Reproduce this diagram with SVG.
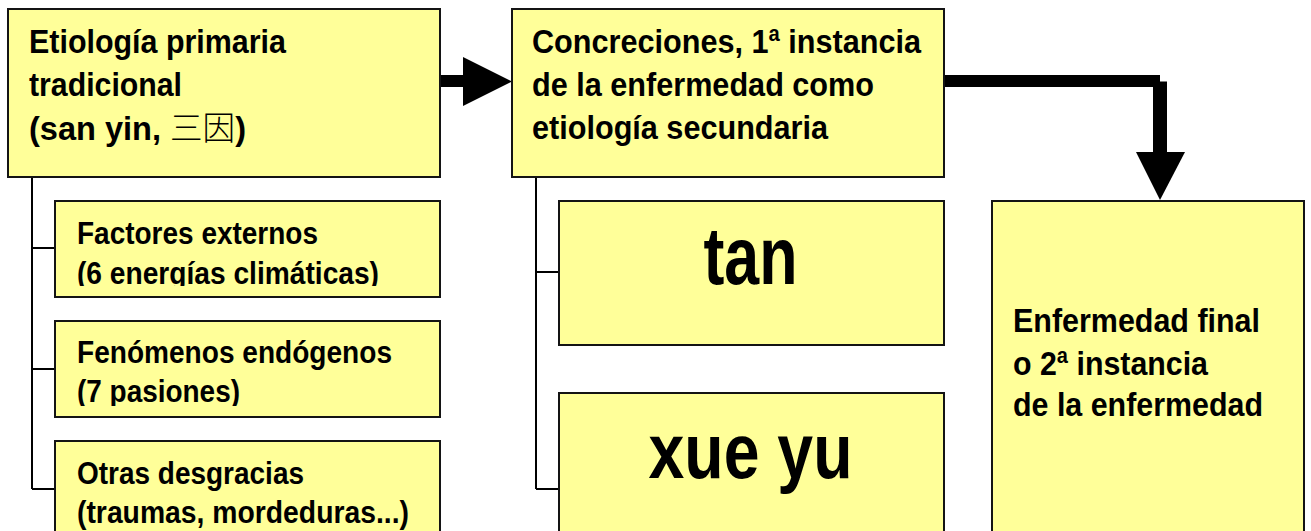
<svg xmlns="http://www.w3.org/2000/svg" width="1311" height="531" viewBox="0 0 1311 531">
  <style>
    .box { fill: #FFFF99; stroke: #141414; stroke-width: 2; }
    .t { font-family: "Liberation Sans", Arial, "Noto Sans CJK SC", sans-serif; font-weight: bold; fill: #000; }
    .h { font-size: 33px; }
    .c { font-size: 31px; }
    .big { font-size: 82px; text-anchor: middle; }
    .cjk { font-family: "Noto Sans CJK SC", "Noto Sans CJK JP", sans-serif; font-weight: 300; }
    .tree { fill: none; stroke: #000; stroke-width: 2; }
    .thick { fill: none; stroke: #000; }
  </style>
  <defs>
    <clipPath id="clipA"><rect x="55" y="200" width="386" height="86"/></clipPath>
    <clipPath id="clipB"><rect x="55" y="320" width="386" height="86"/></clipPath>
  </defs>
  <rect width="1311" height="531" fill="#fff"/>

  <g id="connectors">
    <path class="tree" d="M32,177 V489 M32,248 H55 M32,369 H55 M32,489 H55"/>
    <path class="tree" d="M536,177 V489 M536,272 H559 M536,489 H559"/>
    <path class="thick" stroke-width="12" d="M441,81 H464"/>
    <polygon points="463,57 512,81.5 463,106" fill="#000"/>
    <path class="thick" stroke-width="12" d="M944,81 H1160"/>
    <path class="thick" stroke-width="14" d="M1160,81.5 V153"/>
    <polygon points="1136,152 1185,152 1160,200" fill="#000"/>
  </g>

  <g id="node-etiologia-primaria">
    <rect class="box" x="8" y="9" width="432" height="168"/>
    <text class="t h" x="29" y="52.5" textLength="257" lengthAdjust="spacingAndGlyphs">Etiología primaria</text>
    <text class="t h" x="29" y="95.5" textLength="153" lengthAdjust="spacingAndGlyphs">tradicional</text>
    <text class="t h" x="29" y="139.5" textLength="217" lengthAdjust="spacingAndGlyphs">(san yin, <tspan class="cjk">三因</tspan>)</text>
  </g>

  <g id="node-factores-externos">
    <rect class="box" x="55" y="201" width="385" height="96"/>
    <g clip-path="url(#clipA)">
      <text class="t c" x="77" y="243.5" textLength="241" lengthAdjust="spacingAndGlyphs">Factores externos</text>
      <text class="t c" x="77" y="283.5" textLength="302" lengthAdjust="spacingAndGlyphs">(6 energías climáticas)</text>
    </g>
  </g>

  <g id="node-fenomenos-endogenos">
    <rect class="box" x="55" y="321" width="385" height="96"/>
    <g clip-path="url(#clipB)">
      <text class="t c" x="77" y="362.5" textLength="315" lengthAdjust="spacingAndGlyphs">Fenómenos endógenos</text>
      <text class="t c" x="77" y="401.5" textLength="163" lengthAdjust="spacingAndGlyphs">(7 pasiones)</text>
    </g>
  </g>

  <g id="node-otras-desgracias">
    <rect class="box" x="55" y="441" width="385" height="100"/>
    <text class="t c" x="77" y="483.5" textLength="227" lengthAdjust="spacingAndGlyphs">Otras desgracias</text>
    <text class="t c" x="77" y="522.5" textLength="332" lengthAdjust="spacingAndGlyphs">(traumas, mordeduras...)</text>
  </g>

  <g id="node-concreciones">
    <rect class="box" x="512" y="9" width="432" height="168"/>
    <text class="t h" x="532" y="52.5" textLength="389" lengthAdjust="spacingAndGlyphs">Concreciones, 1ª instancia</text>
    <text class="t h" x="532" y="96" textLength="342" lengthAdjust="spacingAndGlyphs">de la enfermedad como</text>
    <text class="t h" x="532" y="138.5" textLength="296" lengthAdjust="spacingAndGlyphs">etiología secundaria</text>
  </g>

  <g id="node-tan">
    <rect class="box" x="559" y="201" width="385" height="144"/>
    <text class="t big" x="750.5" y="284" textLength="94" lengthAdjust="spacingAndGlyphs">tan</text>
  </g>

  <g id="node-xue-yu">
    <rect class="box" x="559" y="393" width="385" height="150"/>
    <text class="t big" x="750.5" y="477.5" textLength="204" lengthAdjust="spacingAndGlyphs" style="font-size:78px">xue yu</text>
  </g>

  <g id="node-enfermedad-final">
    <rect class="box" x="992" y="201" width="312" height="342"/>
    <text class="t h" x="1013" y="331.5" textLength="247" lengthAdjust="spacingAndGlyphs">Enfermedad final</text>
    <text class="t h" x="1013" y="374.5" textLength="195" lengthAdjust="spacingAndGlyphs">o 2ª instancia</text>
    <text class="t h" x="1013" y="416" textLength="250" lengthAdjust="spacingAndGlyphs">de la enfermedad</text>
  </g>
</svg>
